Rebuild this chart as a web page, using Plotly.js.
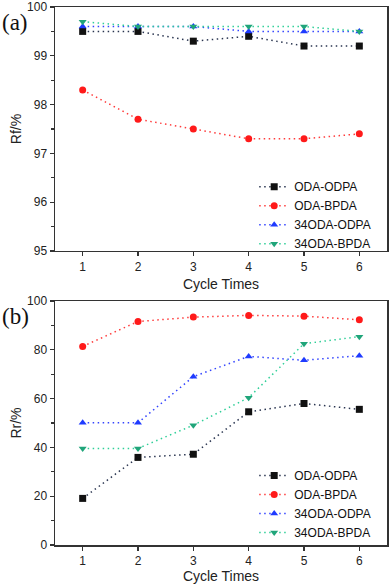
<!DOCTYPE html>
<html>
<head>
<meta charset="utf-8">
<script src="https://cdn.plot.ly/plotly-3.0.1.min.js"></script>
<style>html,body{margin:0;padding:0;background:#fff;}#chart{width:392px;height:584px;}</style>
</head>
<body>
<div id="chart"></div>
<script>
var cycles = [1, 2, 3, 4, 5, 6];
var seriesNames = ["ODA-ODPA", "ODA-BPDA", "34ODA-ODPA", "34ODA-BPDA"];
var rfODA_ODPA = [99.5, 99.5, 99.3, 99.4, 99.2, 99.2];
var rfODA_BPDA = [98.3, 97.7, 97.5, 97.3, 97.3, 97.4];
var rf34ODA_ODPA = [99.6, 99.6, 99.6, 99.5, 99.5, 99.5];
var rf34ODA_BPDA = [99.7, 99.6, 99.6, 99.6, 99.6, 99.5];
var rrODA_ODPA = [19.1, 35.9, 37.2, 54.6, 58.0, 55.6];
var rrODA_BPDA = [81.4, 91.6, 93.4, 94.1, 93.8, 92.3];
var rr34ODA_ODPA = [50.1, 50.1, 69.0, 77.3, 75.7, 77.6];
var rr34ODA_BPDA = [39.6, 39.6, 49.1, 60.4, 82.5, 85.4];

var colors = ["#111111", "#ff1a1a", "#1f3bff", "#20a57a"];
var lineColors = ["#2a3550", "#ff3b3b", "#3344ff", "#2fcf98"];
var symbols = ["square", "circle", "triangle-up", "triangle-down"];
var rfData = [rfODA_ODPA, rfODA_BPDA, rf34ODA_ODPA, rf34ODA_BPDA];
var rrData = [rrODA_ODPA, rrODA_BPDA, rr34ODA_ODPA, rr34ODA_BPDA];
var FONT = "Arial, 'Liberation Sans', sans-serif";

var traces = [];
for (var i = 0; i < 4; i++) {
  traces.push({
    x: cycles, y: rfData[i], name: seriesNames[i], type: "scatter", mode: "lines+markers",
    xaxis: "x", yaxis: "y", legend: "legend",
    line: {color: lineColors[i], width: 1.5, dash: "1.5px,3.5px"},
    marker: {color: colors[i], symbol: symbols[i], size: 7}
  });
}
for (var j = 0; j < 4; j++) {
  traces.push({
    x: cycles, y: rrData[j], name: seriesNames[j], type: "scatter", mode: "lines+markers",
    xaxis: "x2", yaxis: "y2", legend: "legend2",
    line: {color: lineColors[j], width: 1.5, dash: "1.5px,3.5px"},
    marker: {color: colors[j], symbol: symbols[j], size: 7}
  });
}

var axFont = {family: FONT, size: 12, color: "#222"};
function xax() {
  return {
    range: [0.5, 6.5], tickvals: cycles, ticks: "outside", ticklen: 4, tickwidth: 1.2,
    tickcolor: "#333", showline: true, linecolor: "#333", linewidth: 1.5, mirror: true,
    showgrid: false, zeroline: false, tickfont: axFont,
    title: {text: "Cycle Times", font: {family: FONT, size: 14, color: "#222"}, standoff: 6}
  };
}
function yax(dom, rng, dt, mdt, ttl) {
  return {
    domain: dom, range: rng, dtick: dt, ticks: "outside", ticklen: 4, tickwidth: 1.2,
    tickcolor: "#333", showline: true, linecolor: "#333", linewidth: 1.5, mirror: true,
    showgrid: false, zeroline: false, tickfont: axFont,
    minor: {dtick: mdt, ticks: "outside", ticklen: 3, tickcolor: "#333", showgrid: false},
    title: {text: ttl, font: {family: FONT, size: 14, color: "#222"}, standoff: 2}
  };
}
var legendStyle = function (yv) {
  return {x: 0.6, y: yv, xanchor: "left", yanchor: "top", bgcolor: "rgba(0,0,0,0)",
    font: {family: FONT, size: 12, color: "#111"}, tracegroupgap: 0, itemwidth: 30};
};
var layout = {
  width: 392, height: 584,
  margin: {l: 55, r: 5, t: 7, b: 39},
  paper_bgcolor: "#fff", plot_bgcolor: "#fff",
  showlegend: true,
  xaxis: Object.assign(xax(), {anchor: "y"}),
  xaxis2: Object.assign(xax(), {anchor: "y2"}),
  yaxis: yax([0.5465, 1], [95, 100], 1, 0.5, "Rf/%"),
  yaxis2: yax([0, 0.4535], [0, 100], 20, 10, "Rr/%"),
  legend: legendStyle(0.693),
  legend2: legendStyle(0.156),
  annotations: [
    {text: "(a)", xref: "paper", yref: "paper", x: -0.165, y: 0.972, xanchor: "left", yanchor: "middle",
     showarrow: false, font: {family: "'Liberation Serif', 'Times New Roman', serif", size: 23, color: "#111"}},
    {text: "(b)", xref: "paper", yref: "paper", x: -0.165, y: 0.424, xanchor: "left", yanchor: "middle",
     showarrow: false, font: {family: "'Liberation Serif', 'Times New Roman', serif", size: 23, color: "#111"}}
  ]
};
Plotly.newPlot("chart", traces, layout, {displayModeBar: false, staticPlot: true});
</script>
</body>
</html>
